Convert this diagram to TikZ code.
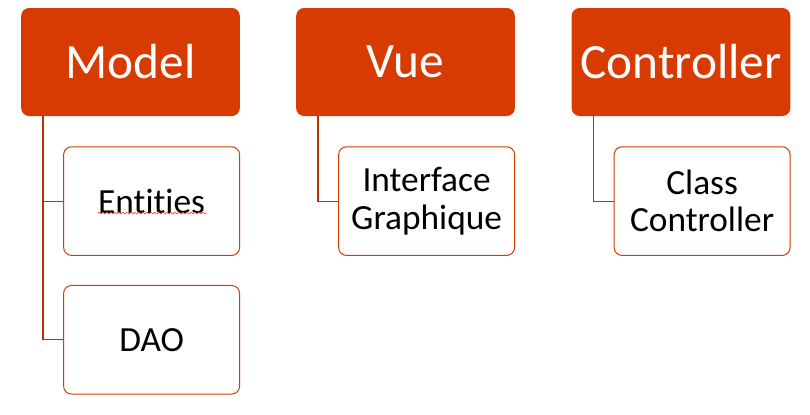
\documentclass[tikz,border=0pt]{standalone}
\usepackage{fontspec}
\setmainfont{Carlito}[Ligatures=NoCommon]
\usepackage{tikz}
\usetikzlibrary{positioning,decorations.pathmorphing}
\definecolor{msorange}{HTML}{D83B01}

\begin{document}
\begin{tikzpicture}[x=0.75pt, y=0.75pt,
    head/.style={rectangle, fill=msorange, text=white, minimum width=164pt, minimum height=81pt, rounded corners=6pt, inner sep=0pt, font=\fontsize{37}{44}\selectfont},
    item/.style={rectangle, draw=msorange, line width=0.75pt, fill=white, minimum width=132pt, minimum height=81.5pt, text width=128pt, align=center, rounded corners=6pt, inner sep=0pt, font=\fontsize{26.5}{28}\selectfont},
    link/.style={draw=msorange!85!black, line width=0.9pt}]

    \useasboundingbox (0,0) rectangle (810,-414);

    % Top level
    \node[head] (model) at (130.5,-62) {Model};
    \node[head] (vue) at (405.5,-62) {Vue};
    \node[head] (ctrl) at (681,-62) {Controller};

    % Children
    \node[item, below left=22.5pt and 0pt of model.south east] (entities) {Ent\kern0pt it\kern0pt ies};
    \node[item, below=21.75pt of entities] (dao) {DAO};
    \node[item, below left=22.5pt and 0pt of vue.south east] (gui) {Interface\\Graphique};
    \node[item, below left=22.5pt and 0pt of ctrl.south east] (cls) {Class\\Controller};

    % Spell check underline
    \draw[red!75, line width=0.5pt, decorate, decoration={snake, amplitude=0.7pt, segment length=3pt}]
        ([shift={(-54,-12)}]entities.center) -- ([shift={(56,-12)}]entities.center);

    % Connectors
    \coordinate (mroot) at ([xshift=16.5pt]model.south west);
    \coordinate (vroot) at ([xshift=16.5pt]vue.south west);
    \coordinate (croot) at ([xshift=16.5pt]ctrl.south west);
    \draw[link] (mroot) |- (entities.west);
    \draw[link] (mroot) |- (dao.west);
    \draw[link] (vroot) |- (gui.west);
    \draw[link] (croot) |- (cls.west);

\end{tikzpicture}
\end{document}
